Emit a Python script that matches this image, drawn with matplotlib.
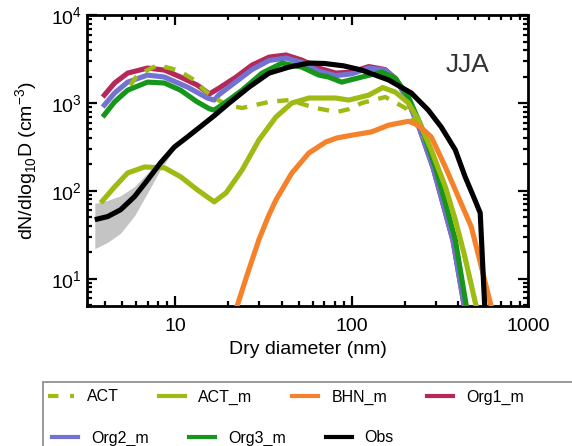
import matplotlib
matplotlib.use("Agg")
import matplotlib.pyplot as plt
from matplotlib.lines import Line2D
from matplotlib.patches import Rectangle

plt.rcParams['font.family'] = ['Liberation Sans', 'DejaVu Sans']
plt.rcParams['mathtext.fontset'] = 'custom'
plt.rcParams['mathtext.rm'] = 'Liberation Sans'

# ---- data (diameter in nm, dN/dlog10D in cm^-3) ----
org1_x = [3.87, 4.52, 5.36, 6.95, 8.67, 10.7, 13.3, 15.6, 17.7, 22.1, 27.2, 34,
          42.4, 52.2, 65.1, 81.3, 100, 125, 155, 177, 205, 242, 290, 330, 376,
          435, 460]
org1_y = [1170, 1690, 2190, 2500, 2370, 1975, 1600, 1270, 1480, 1975, 2700, 3330,
          3520, 3080, 2500, 2190, 2250, 2600, 2400, 1900, 1150, 520, 182, 71, 27,
          4.9, 2]

org2_x = [3.87, 4.52, 5.36, 6.95, 8.67, 11.7, 15.2, 16.6, 17.7, 22.1, 27.2, 34,
          42.4, 52.2, 65.1, 81.3, 100, 125, 155, 177, 205, 242, 290, 330, 376,
          435, 460]
org2_y = [900, 1300, 1730, 2080, 1975, 1520, 1140, 1080, 1250, 1750, 2400, 3050,
          3250, 2900, 2300, 2050, 2150, 2500, 2370, 1900, 1150, 520, 182, 71, 27,
          4.9, 2]

org3_x = [3.87, 4.52, 5.36, 6.95, 8.67, 10.7, 13.3, 15.6, 16.6, 18.5, 23.9, 31,
          40.3, 52.2, 65.1, 74, 87.8, 114, 148, 177, 210, 249, 298, 340, 387,
          447, 480]
org3_y = [694, 1030, 1400, 1730, 1690, 1400, 1030, 860, 830, 960, 1400, 2190,
          2850, 2560, 2080, 1975, 1730, 1975, 2250, 1920, 1170, 534, 187, 73, 28,
          4.9, 2]

act_x = [3.87, 4.52, 5.36, 6.1, 7.91, 10.3, 12.8, 14.6, 16.6, 19.4, 23.9, 34, 44,
         62.7, 82.3, 96, 114, 155, 202, 230, 283, 340, 387, 435, 508, 540]
act_y = [694, 1030, 1450, 2080, 2700, 2370, 1830, 1400, 1150, 960, 877, 1030,
         1080, 877, 790, 850, 1000, 1170, 877, 590, 293, 111, 47, 19, 4.9, 2]

actm_x = [3.77, 4.52, 5.36, 6.68, 8.67, 10.7, 13.3, 16.6, 19.4, 23.9, 29.8, 37.2,
          45.8, 57.2, 81.3, 96.2, 125, 150, 177, 210, 239, 283, 340, 387, 435,
          508, 540]
actm_y = [73, 111, 160, 187, 183, 145, 103, 75, 95, 173, 380, 694, 1000, 1140,
          1140, 1080, 1230, 1500, 1330, 1000, 640, 293, 111, 47, 19, 4.9, 2]

bhn_x = [22.1, 25.5, 29.8, 33.5, 37.2, 45.8, 57.2, 71.3, 82.3, 100, 130, 162,
         210, 239, 283, 340, 403, 477, 522, 618, 650]
bhn_y = [4.5, 11, 28, 50, 79, 160, 270, 360, 400, 430, 470, 560, 620, 560, 410,
         187, 85, 39, 19, 4.9, 2]

obs_x = [3.49, 4.13, 4.89, 5.86, 6.95, 8.23, 9.87, 11.7, 13.8, 16.8, 20.2, 26.2,
         34, 44, 57.2, 70, 90, 114, 162, 218, 272, 322, 387, 440, 500, 536, 575]
obs_y = [47, 51, 61, 86, 133, 208, 316, 411, 534, 731, 1000, 1520, 2190, 2560,
         2850, 2820, 2650, 2370, 1830, 1300, 830, 534, 293, 145, 79, 56, 3]

band_x = [3.49, 4.13, 4.89, 5.86, 6.95, 8.23, 9.87]
band_lo = [22, 26, 33, 52, 95, 175, 300]
band_hi = [72, 78, 88, 112, 160, 235, 330]

c_act = '#9dbb12'
c_bhn = '#f5822a'
c_org1 = '#b5295a'
c_org2 = '#7272d2'
c_org3 = '#16961a'
lw = 3.7

fig = plt.figure(figsize=(5.72, 4.46), dpi=100)
ax = fig.add_axes([0.152, 0.314, 0.771, 0.652])

line_kw = dict(solid_joinstyle='round', solid_capstyle='butt')
ax.fill_between(band_x, band_lo, band_hi, color='#c4c4c4', lw=0, zorder=1)
ax.plot(org1_x, org1_y, color=c_org1, lw=lw, zorder=2, **line_kw)
ax.plot(org2_x, org2_y, color=c_org2, lw=lw, zorder=3, **line_kw)
ax.plot(act_x, act_y, color=c_act, lw=lw*0.85, ls=(0, (2.6, 2.2)), zorder=3.5,
        dash_joinstyle='round')
ax.plot(org3_x, org3_y, color=c_org3, lw=lw, zorder=4, **line_kw)
ax.plot(actm_x, actm_y, color=c_act, lw=lw, zorder=5, **line_kw)
ax.plot(bhn_x, bhn_y, color=c_bhn, lw=lw, zorder=5, **line_kw)
ax.plot(obs_x, obs_y, color='black', lw=lw, zorder=6, **line_kw)

ax.set_xscale('log')
ax.set_yscale('log')
ax.set_xlim(3.15, 1000)
ax.set_ylim(4.9, 1e4)

for s in ax.spines.values():
    s.set_linewidth(2)
ax.tick_params(which='both', direction='in', top=True, right=True, width=1.6,
               labelsize=14)
ax.tick_params(which='major', length=7)
ax.tick_params(which='minor', length=3.5)
ax.tick_params(axis='x', which='major', pad=9)
ax.set_xticks([10, 100, 1000])
ax.set_xticklabels(['10', '100', '1000'])

ax.set_xlabel('Dry diameter (nm)', fontsize=14, labelpad=4)
ax.set_ylabel(r'dN/dlog$_{10}$D (cm$^{-3}$)', fontsize=14, labelpad=8)
ax.text(0.864, 0.83, 'JJA', transform=ax.transAxes, fontsize=19,
        ha='center', va='center', color='#333333')

# legend box at the bottom (runs past the right edge like the reference)
fig.patches.append(Rectangle((43 / 572, -0.05), 1.0, 0.05 + 1 - 382 / 446,
                             transform=fig.transFigure, fill=False,
                             edgecolor='#888888', lw=1.2, clip_on=False))

def handle(color, ls='-'):
    return Line2D([], [], color=color, lw=3, ls=ls)

row1 = [(handle(c_act, (0, (2.5, 2.8))), 'ACT'), (handle(c_act), 'ACT_m'),
        (handle(c_bhn), 'BHN_m'), (handle(c_org1), 'Org1_m')]
row2 = [(handle(c_org2), 'Org2_m'), (handle(c_org3), 'Org3_m'),
        (handle('black'), 'Obs')]

common = dict(frameon=False, fontsize=11.5, handlelength=1.65, handletextpad=0.8,
              columnspacing=2.5, borderpad=0, borderaxespad=0, loc='center left')
leg1 = fig.legend([h for h, _ in row1], [t for _, t in row1], ncol=4,
                  bbox_to_anchor=(48 / 572, 1 - 397 / 446), **common)
leg2 = fig.legend([h for h, _ in row2], [t for _, t in row2], ncol=3,
                  bbox_to_anchor=(52 / 572, 1 - 438 / 446), **common)

fig.savefig('out.png', dpi=100)
